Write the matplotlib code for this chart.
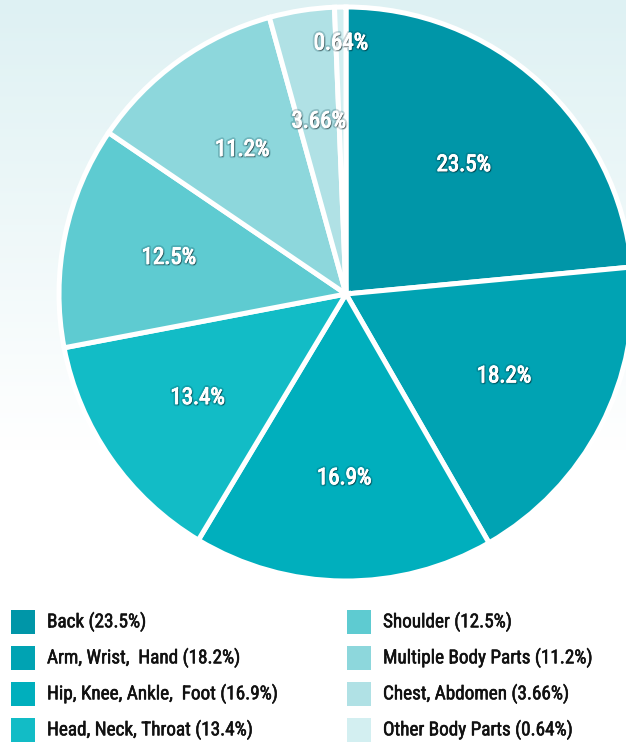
import numpy as np
import matplotlib.pyplot as plt
import matplotlib.patheffects as pe
from matplotlib.patches import Rectangle
from matplotlib import font_manager

# injury share by body part
parts = ['Back', 'Arm, Wrist,  Hand', 'Hip, Knee, Ankle,  Foot', 'Head, Neck, Throat',
         'Shoulder', 'Multiple Body Parts', 'Chest, Abdomen', 'Other Body Parts']
shares = [23.5, 18.2, 16.9, 13.4, 12.5, 11.2, 3.66, 0.64]
share_labels = ['23.5%', '18.2%', '16.9%', '13.4%', '12.5%', '11.2%', '3.66%', '0.64%']
colors = ['#0096a8', '#00a3b3', '#00afbd', '#12bcc6',
          '#5ecbd1', '#8dd7dc', '#b0e1e5', '#d3eff1']

names = {f.name for f in font_manager.fontManager.ttflist}
FAMILY = [f for f in ['Liberation Sans Narrow', 'Roboto Condensed', 'DejaVu Sans Condensed', 'DejaVu Sans'] if f in names]

W, H = 626, 744
fig = plt.figure(figsize=(W / 100, H / 100), dpi=100)

# background wash, light cyan at the top fading to white
bg = fig.add_axes([0, 0, 1, 1], zorder=0)
top = np.array([222, 241, 243]) / 255
bot = np.array([255, 255, 255]) / 255
t = np.clip(np.arange(H) / 450, 0, 1)[:, None]
grad = top * (1 - t) + bot * t
bg.imshow(grad[:, None, :], aspect='auto', extent=[0, 1, 0, 1])
bg.axis('off')

ax = fig.add_axes([0, 0, 1, 1], zorder=1)
ax.patch.set_alpha(0)
cx, cy, r = 346, H - 294, 287
wedges, _ = ax.pie(shares, colors=colors, startangle=90, counterclock=False,
                   center=(cx, cy), radius=r, frame=True,
                   wedgeprops=dict(edgecolor='white', linewidth=3.6))
ax.set_xlim(0, W)
ax.set_ylim(0, H)
ax.set_aspect('equal')
ax.axis('off')

# soft dark halo under the white percentages
shadow = [pe.withStroke(linewidth=3.2, foreground=(0, 0.2, 0.25, 0.2)),
          pe.withSimplePatchShadow(offset=(0.8, -0.8), shadow_rgbFace='black', alpha=0.5),
          pe.withStroke(linewidth=0.7, foreground='white')]
dists = [0.61, 0.62, 0.64, 0.63, 0.63, 0.62, 0.61, 0.875]
for w, lab, d in zip(wedges, share_labels, dists):
    ang = np.deg2rad((w.theta1 + w.theta2) / 2)
    ax.text(cx + d * r * np.cos(ang), cy + d * r * np.sin(ang), lab,
            ha='center', va='center', color='white', fontsize=16.5,
            family=FAMILY, path_effects=shadow)

# two-column legend below the pie
for i, (name, val, c) in enumerate(zip(parts, share_labels, colors)):
    col, row = divmod(i, 4)
    x0 = 11 + col * 336
    yc = H - (622 + row * 36)
    ax.add_patch(Rectangle((x0, yc - 12), 24, 24, facecolor=c, edgecolor='none'))
    ax.text(x0 + 36, yc, f'{name} ({val})', ha='left', va='center',
            fontsize=13.8, color='#111111', family=FAMILY,
            path_effects=[pe.withStroke(linewidth=0.4, foreground='#111111')])

fig.savefig('out.png', dpi=100)
